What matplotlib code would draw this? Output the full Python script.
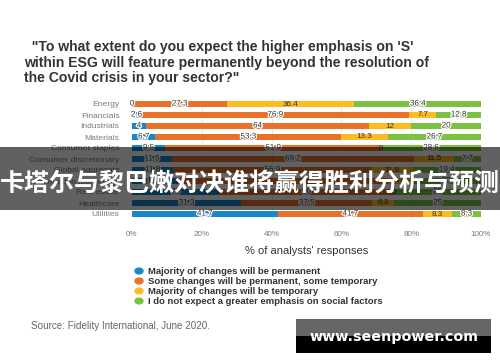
import matplotlib
matplotlib.use("Agg")
import matplotlib.pyplot as plt
import matplotlib.patheffects as pe
from matplotlib.patches import Rectangle, Circle

# data, top row first
SECTORS = ["Energy", "Financials", "Industrials", "Materials", "Consumer staples",
           "Consumer discretionary", "Global aggregate", "Information technology",
           "Real estate", "Healthcare", "Utilities"]
PERMANENT = [0, 2.6, 4, 6.7, 9.5, 11.5, 11.8, 13.3, 25, 31.3, 41.7]
SOME = [27.3, 76.9, 64, 53.3, 61.9, 69.2, 56.9, 60, 50, 37.5, 41.7]
TEMPORARY = [36.4, 7.7, 12, 13.3, 0, 11.5, 11.8, 6.7, 0, 6.3, 8.3]
NONE = [36.4, 12.8, 20, 26.7, 28.6, 7.7, 19.4, 20, 25, 25, 8.3]
SERIES = [PERMANENT, SOME, TEMPORARY, NONE]
LEGEND = ["Majority of changes will be permanent",
          "Some changes will be permanent, some temporary",
          "Majority of changes will be temporary",
          "I do not expect a greater emphasis on social factors"]
COLORS = ["#1a87c9", "#e9722b", "#fdbd22", "#7cc242"]
X_TICKS = [0, 20, 40, 60, 80, 100]
X_TICKLABELS = ["0%", "20%", "40%", "60%", "80%", "100%"]

W, H = 500, 362
fig = plt.figure(figsize=(W / 100, H / 100), dpi=100)
fig.patch.set_facecolor("white")

def fx(px):
    return px / W

def fy(py):
    return 1 - py / H

ax = fig.add_axes([fx(132), fy(219.5), fx(481) - fx(132), fy(98.5) - fy(219.5)])

ys = list(range(len(SECTORS)))
halo = [pe.withStroke(linewidth=1.8, foreground="white")]
left = [0] * len(SECTORS)
for vals, col in zip(SERIES, COLORS):
    ax.barh(ys, vals, left=left, height=0.5, color=col, linewidth=0, zorder=3)
    for y, v, l in zip(ys, vals, left):
        ax.text(l + v / 2, y, f"{v:g}", ha="center", va="center", fontsize=5.8,
                color="#333333", zorder=5, family="Liberation Sans",
                path_effects=None if col == COLORS[2] else halo)
    left = [a + b for a, b in zip(left, vals)]

for x in X_TICKS[1:]:
    ax.axvline(x, color="#e6e6e6", linewidth=0.6, zorder=1)

ax.set_xlim(0, 100)
ax.set_ylim(len(SECTORS) - 0.5, -0.5)
ax.set_yticks(ys)
ax.set_yticklabels(SECTORS, fontsize=6.1, color="#7a7a7a", family="Liberation Sans")
ax.set_xticks(X_TICKS)
ax.set_xticklabels(X_TICKLABELS, fontsize=5.8, color="#7a7a7a", family="Liberation Sans")
ax.tick_params(length=0)
ax.tick_params(axis="y", pad=9)
ax.tick_params(axis="x", pad=8)
for s in ax.spines.values():
    s.set_visible(False)

ax.set_xlabel("% of analysts' responses", fontsize=8, color="#333333",
              family="Liberation Sans", labelpad=6)

fig.text(fx(24), fy(62.5), "  \"To what extent do you expect the higher emphasis on 'S'\n"
         "within ESG will feature permanently beyond the resolution of\n"
         "the Covid crisis in your sector?\"",
         ha="left", va="center", fontsize=10.1, fontweight="bold", color="#333333",
         family="Liberation Sans", linespacing=1.12)

for i, (lab, col) in enumerate(zip(LEGEND, COLORS)):
    yy = 271 + i * 10
    fig.patches.append(Circle((fx(139), fy(yy)), radius=4 / W, color=col,
                              transform=fig.transFigure, figure=fig))
    fig.text(fx(148), fy(yy), lab, ha="left", va="center", fontsize=6.8,
             fontweight="bold", color="#333333", family="Liberation Sans")

fig.text(fx(31), fy(326), "Source: Fidelity International, June 2020.", ha="left",
         va="center", fontsize=7.1, color="#666666", family="Liberation Sans")

# overlay band with caption
fig.patches.append(Rectangle((0, fy(210)), 1, fy(147) - fy(210), transform=fig.transFigure,
                             facecolor="#000000", alpha=0.62, zorder=10, figure=fig))
fig.text(0.5, fy(184), "卡塔尔与黎巴嫩对决谁将赢得胜利分析与预测", ha="center", va="center",
         fontsize=18, fontweight="bold", color="white", zorder=11,
         family=["Noto Sans CJK SC", "DejaVu Sans"])

# watermark box
fig.patches.append(Rectangle((fx(296), fy(353)), fx(491) - fx(296), fy(319) - fy(353),
                             transform=fig.transFigure, facecolor="#000000", zorder=10, figure=fig))
fig.patches.append(Rectangle((fx(296), fy(336)), fx(491) - fx(296), fy(319) - fy(336),
                             transform=fig.transFigure, facecolor="#666666", zorder=10, figure=fig))
fig.text(fx(393.5), fy(337), "www.seenpower.com", ha="center", va="center", fontsize=10.3,
         fontweight="bold", color="white", zorder=11, family="DejaVu Sans")

fig.savefig("out.png", dpi=100, facecolor="white")
